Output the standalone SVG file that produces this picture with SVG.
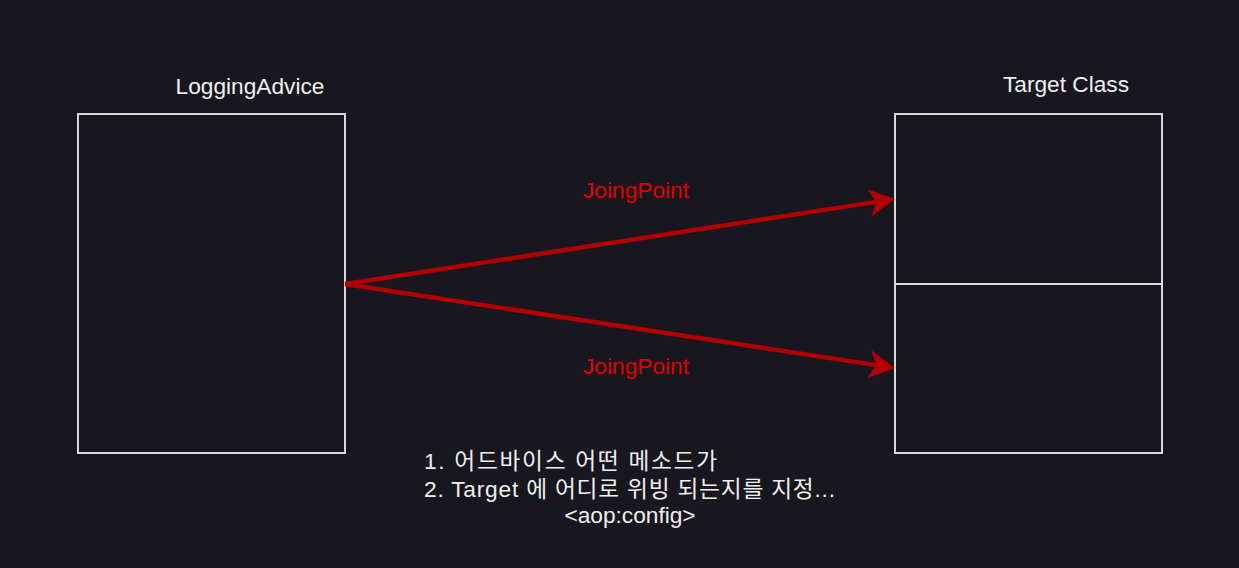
<svg xmlns="http://www.w3.org/2000/svg" width="1239" height="568" viewBox="0 0 1239 568">
<style>
.box{fill:none;stroke:#d9d9d9;stroke-width:2}
.lbl{font-family:"Liberation Sans",Arial,sans-serif;font-size:22.7px;fill:#f0f0f0}
.red{font-family:"Liberation Sans",Arial,sans-serif;font-size:22.7px;fill:#e00000;text-anchor:middle}
.kr{font-family:"Liberation Sans","Noto Sans CJK KR",sans-serif;font-size:22.7px;fill:#f0f0f0}
.edge{stroke:#b20000;stroke-width:4.5;fill:none}
</style>
<defs>
<marker id="ah" markerUnits="userSpaceOnUse" markerWidth="30" markerHeight="30" refX="7" refY="14" orient="auto">
<path d="M0,0 L26,14 L0,28 L7,14 Z" fill="#b20000"/>
</marker>
</defs>
<rect width="1239" height="568" fill="#18171f"/>
<g id="logging-advice">
<rect class="box" x="78" y="114" width="267" height="339"/>
<text class="lbl" x="250" y="94" text-anchor="middle">LoggingAdvice</text>
</g>
<g id="target-class">
<rect class="box" x="895" y="114" width="267" height="339"/>
<line class="box" x1="895" y1="284" x2="1162" y2="284"/>
<text class="lbl" x="1066" y="92" text-anchor="middle">Target Class</text>
</g>
<g id="connectors">
<line class="edge" x1="345" y1="284" x2="876.2" y2="201.9" marker-end="url(#ah)"/>
<line class="edge" x1="345" y1="284" x2="876.2" y2="365.1" marker-end="url(#ah)"/>
<text class="red" x="636" y="198">JoingPoint</text>
<text class="red" x="636" y="374">JoingPoint</text>
</g>
<g id="note">
<text class="kr" x="424" y="469" textLength="293" lengthAdjust="spacing">1. 어드바이스 어떤 메소드가</text>
<text class="kr" x="424" y="497" textLength="411" lengthAdjust="spacing">2. Target 에 어디로 위빙 되는지를 지정...</text>
<text class="kr" x="630" y="523" text-anchor="middle">&lt;aop:config&gt;</text>
</g>
</svg>
